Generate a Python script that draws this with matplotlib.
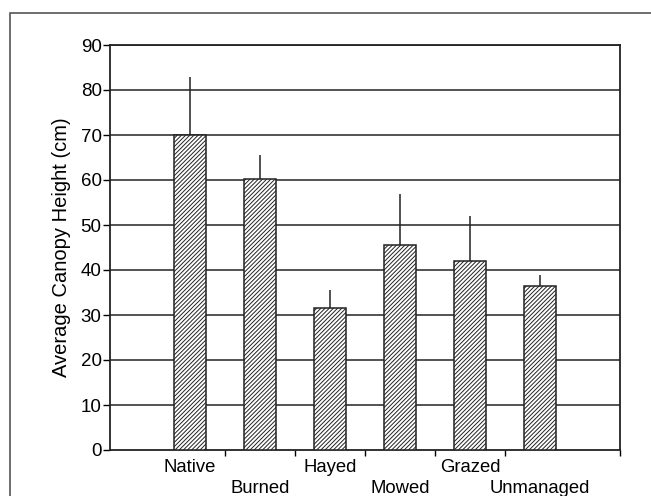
# Canopy height by management type
import matplotlib.pyplot as plt
import numpy as np
from matplotlib.patches import Rectangle
from matplotlib.transforms import blended_transform_factory

plt.rcParams['font.family'] = ['Liberation Sans', 'DejaVu Sans']
plt.rcParams['hatch.linewidth'] = 0.7
plt.rcParams['hatch.color'] = '#333333'

# data
treatments = ['Native', 'Burned', 'Hayed', 'Mowed', 'Grazed', 'Unmanaged']
heights = [70.0, 60.3, 31.6, 45.5, 42.1, 36.4]
errors = [12.8, 5.2, 4.0, 11.5, 9.8, 2.5]
yticks = [0, 10, 20, 30, 40, 50, 60, 70, 80, 90]

fig = plt.figure(figsize=(6.51, 4.96), dpi=100)

# thin outer frame around the figure
fig.patches.append(Rectangle((10 / 651, -0.01), 1.0, (496 - 13) / 496 + 0.01,
                             transform=fig.transFigure, fill=False,
                             edgecolor='#555555', linewidth=1.2))

ax = fig.add_axes([110 / 651, 46 / 496, 510 / 651, 405 / 496])

x = np.arange(len(treatments))

# gridlines
for v in yticks[1:]:
    ax.axhline(v, color='#444444', linewidth=1.3, zorder=1)

ax.bar(x, heights, width=0.45, color='white', edgecolor='#222222',
       linewidth=1.1, hatch='////////', zorder=3)

# one-sided error bars, no caps
ax.errorbar(x, heights, yerr=[np.zeros(len(errors)), errors], fmt='none',
            ecolor='#222222', elinewidth=1.1, capsize=0, zorder=2)

ax.set_xlim(-1.14, 6.14)
ax.set_ylim(0, 90)
ax.set_yticks(yticks)
ax.tick_params(axis='y', direction='out', length=5, width=1, labelsize=13.5, pad=1)

# staggered category labels, drawn as text under the axis
ax.set_xticks([])
trans = blended_transform_factory(ax.transData, ax.transAxes)
for i, t in enumerate(treatments):
    off = -0.044 if i % 2 == 0 else -0.094
    ax.text(x[i], off, t, transform=trans, ha='center', va='center', fontsize=13.3)
ax.set_xticks(list(np.arange(0.5, 5, 1.0)) + [6.14], minor=True)
ax.tick_params(axis='x', which='minor', direction='out', length=4, width=1)

for s in ax.spines.values():
    s.set_linewidth(1.3)
    s.set_color('#222222')

ax.set_ylabel('Average Canopy Height (cm)', fontsize=14.5, labelpad=7)

plt.savefig('out.png', dpi=100)
